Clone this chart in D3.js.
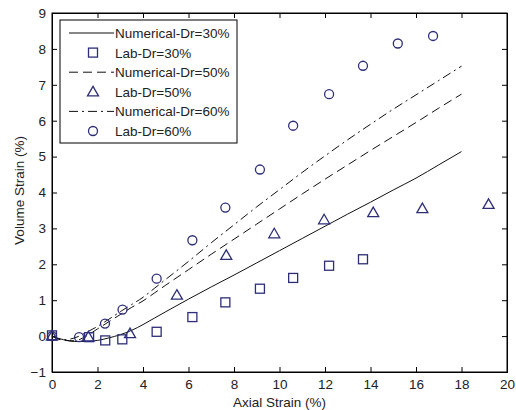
<!DOCTYPE html>
<html>
<head>
<meta charset="utf-8">
<script src="https://cdn.jsdelivr.net/npm/d3@7"></script>
<style>
  body { margin: 0; background: #fff; }
  svg text { font-family: Arial, "Liberation Sans", sans-serif; }
</style>
</head>
<body>
<svg></svg>
<script>
// numerical curves (axial strain, volume strain)
let numX = [0, 0.5, 1, 1.5, 2, 2.5, 3, 3.5, 4, 4.5, 5, 6, 7, 8, 9, 10, 11, 12, 13, 14, 15, 16, 17, 18]
let num30 = [0, -0.1, -0.15, -0.15, -0.12, -0.05, 0.04, 0.16, 0.32, 0.5, 0.68, 1.03, 1.37, 1.7, 2.04, 2.38, 2.72, 3.06, 3.4, 3.73, 4.07, 4.4, 4.77, 5.14]
let num50 = [0, -0.12, -0.13, 0.0, 0.2, 0.4, 0.6, 0.8, 0.98, 1.2, 1.42, 1.85, 2.28, 2.7, 3.12, 3.54, 3.96, 4.37, 4.77, 5.17, 5.56, 5.95, 6.35, 6.74]
let num60 = [0, -0.1, -0.05, 0.1, 0.27, 0.47, 0.68, 0.88, 1.08, 1.33, 1.58, 2.08, 2.6, 3.1, 3.6, 4.08, 4.56, 5.02, 5.47, 5.9, 6.32, 6.72, 7.12, 7.52]

// lab points
let lab30x = [0, 1.63, 2.34, 3.09, 4.6, 6.17, 7.62, 9.14, 10.6, 12.18, 13.67]
let lab30y = [0.02, -0.03, -0.12, -0.09, 0.12, 0.53, 0.94, 1.32, 1.62, 1.96, 2.14]
let lab50x = [0, 1.6, 3.43, 5.49, 7.66, 9.77, 11.96, 14.12, 16.28, 19.19]
let lab50y = [0, -0.02, 0.07, 1.14, 2.25, 2.85, 3.24, 3.44, 3.55, 3.67]
let lab60x = [0, 1.19, 2.33, 3.1, 4.6, 6.17, 7.62, 9.14, 10.6, 12.18, 13.67, 15.2, 16.75]
let lab60y = [0, -0.03, 0.35, 0.74, 1.6, 2.67, 3.58, 4.64, 5.86, 6.74, 7.53, 8.15, 8.36]

let xTicks = [0, 2, 4, 6, 8, 10, 12, 14, 16, 18, 20]
let yTicks = [-1, 0, 1, 2, 3, 4, 5, 6, 7, 8, 9]
let legendLabels = ["Numerical-Dr=30%", "Lab-Dr=30%", "Numerical-Dr=50%", "Lab-Dr=50%", "Numerical-Dr=60%", "Lab-Dr=60%"]

let width = 516
let height = 410
let plotL = 52, plotR = 507, plotT = 13, plotB = 372
let markColor = "#2e2e78"
let dash50 = "9,5"
let dash60 = "9,4,2,4"

let svg = d3.select("svg").attr("width", width).attr("height", height)

let xScale = d3.scaleLinear().domain([0, 20]).range([plotL, plotR])
let yScale = d3.scaleLinear().domain([-1, 9]).range([plotB, plotT])

// frame
svg.append("rect")
    .attr("x", plotL).attr("y", plotT)
    .attr("width", plotR - plotL).attr("height", plotB - plotT)
    .attr("fill", "white").attr("stroke", "black").attr("stroke-width", 1)

// axes with inward ticks
let tl = 5
let xAxis = d3.axisBottom(xScale).tickValues(xTicks).tickSize(-tl).tickPadding(7)
svg.append("g").attr("transform", "translate(0," + plotB + ")").call(xAxis)
let xTop = d3.axisTop(xScale).tickValues(xTicks).tickSize(-tl).tickFormat("")
svg.append("g").attr("transform", "translate(0," + plotT + ")").call(xTop)
let yAxis = d3.axisLeft(yScale).tickValues(yTicks).tickSize(-tl).tickPadding(6)
svg.append("g").attr("transform", "translate(" + plotL + ",0)").call(yAxis)
let yRight = d3.axisRight(yScale).tickValues(yTicks).tickSize(-tl).tickFormat("")
svg.append("g").attr("transform", "translate(" + plotR + ",0)").call(yRight)

svg.selectAll(".domain").attr("stroke", "black")
svg.selectAll(".tick line").attr("stroke", "black")
svg.selectAll(".tick text").style("font-size", "13.5px").attr("fill", "#222")

// axis titles
svg.append("text")
    .attr("x", (plotL + plotR) / 2).attr("y", 407)
    .attr("text-anchor", "middle").style("font-size", "13.5px").attr("fill", "#222")
    .text("Axial Strain (%)")
svg.append("text")
    .attr("transform", "translate(24," + ((plotT + plotB) / 2 - 2) + ") rotate(-90)")
    .attr("text-anchor", "middle").style("font-size", "13.5px").attr("fill", "#222")
    .text("Volume Strain (%)")

// lines
let line = d3.line().curve(d3.curveMonotoneX).x(d => xScale(d[0])).y(d => yScale(d[1]))
let series = [
    {ys: num30, dash: null},
    {ys: num50, dash: dash50},
    {ys: num60, dash: dash60}
]
series.forEach(s => {
    svg.append("path")
        .datum(numX.map((x, i) => [x, s.ys[i]]))
        .attr("d", line)
        .attr("fill", "none")
        .attr("stroke", "#111")
        .attr("stroke-width", 1)
        .attr("stroke-dasharray", s.dash)
})

// markers
let drawMarker = (g, type, cx, cy) => {
    if (type == "square") {
        g.append("rect").attr("x", cx - 4.5).attr("y", cy - 4.5).attr("width", 9).attr("height", 9)
    } else if (type == "triangle") {
        g.append("path").attr("d", "M" + cx + "," + (cy - 5.5) + "L" + (cx + 5.5) + "," + (cy + 4) + "L" + (cx - 5.5) + "," + (cy + 4) + "Z")
    } else {
        g.append("circle").attr("cx", cx).attr("cy", cy).attr("r", 4.5)
    }
}
let marks = svg.append("g").attr("fill", "none").attr("stroke", markColor).attr("stroke-width", 1.3)
lab30x.forEach((x, i) => drawMarker(marks, "square", xScale(x), yScale(lab30y[i])))
lab50x.forEach((x, i) => drawMarker(marks, "triangle", xScale(x), yScale(lab50y[i])))
lab60x.forEach((x, i) => drawMarker(marks, "circle", xScale(x), yScale(lab60y[i])))

// legend
let lg = svg.append("g")
lg.append("rect").attr("x", 60).attr("y", 20).attr("width", 177).attr("height", 123)
    .attr("fill", "white").attr("stroke", "black").attr("stroke-width", 1)
let legendTypes = ["line", "square", "line", "triangle", "line", "circle"]
let legendDash = [null, null, dash50, null, dash60, null]
legendLabels.forEach((label, i) => {
    let cy = 33 + i * 19.6
    if (legendTypes[i] == "line") {
        lg.append("line").attr("x1", 69).attr("x2", 114).attr("y1", cy).attr("y2", cy)
            .attr("stroke", "#111").attr("stroke-dasharray", legendDash[i])
    } else {
        let mg = lg.append("g").attr("fill", "none").attr("stroke", markColor).attr("stroke-width", 1.3)
        drawMarker(mg, legendTypes[i], 93, cy)
    }
    lg.append("text").attr("x", 115).attr("y", cy + 5)
        .style("font-size", "13.5px").attr("fill", "#222")
        .text(label)
})
</script>
</body>
</html>
